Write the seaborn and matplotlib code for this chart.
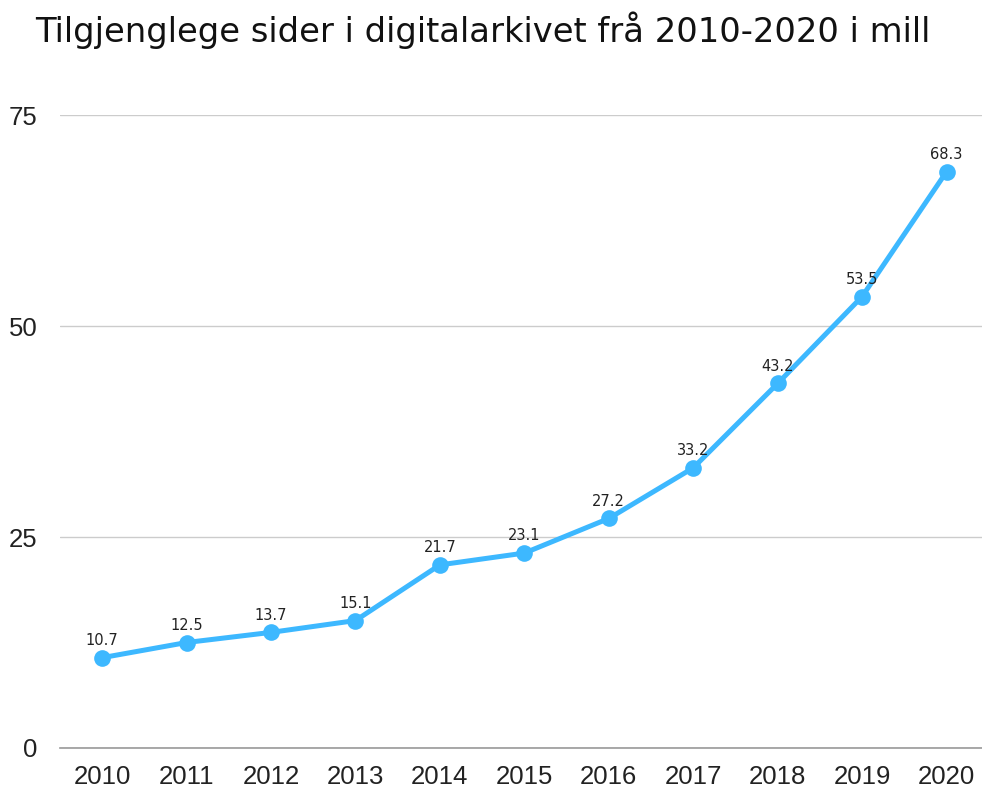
# %% Library imports

import pandas as pd
import seaborn as sns
import matplotlib.pyplot as plt

# %% Data

years = [2010, 2011, 2012, 2013, 2014, 2015, 2016, 2017, 2018, 2019, 2020]
pages_mill = [10.7, 12.5, 13.7, 15.1, 21.7, 23.1, 27.2, 33.2, 43.2, 53.5, 68.3]
y_ticks = [0, 25, 50, 75]

df = pd.DataFrame({"year": [str(y) for y in years], "pages": pages_mill})
df["pos"] = range(len(df))

# %% Plot

sns.set_style("white")
plt.rcParams["font.family"] = ["Liberation Sans", "DejaVu Sans"]

fig = plt.figure(figsize=(9.82, 7.89), dpi=100)
ax = fig.add_axes([0.061, 0.052, 0.939, 0.802])

line_color = "#3DB8FF"
sns.lineplot(data=df, x="pos", y="pages", ax=ax, color=line_color,
             linewidth=3.6, marker="o", markersize=12,
             markeredgewidth=0, clip_on=False)

for _, row in df.iterrows():
    ax.annotate(f"{row['pages']:.1f}", (row["pos"], row["pages"]),
                xytext=(0, 7), textcoords="offset points",
                ha="center", va="bottom", fontsize=10.5,
                family=["DejaVu Sans"], color="#222222")

ax.set_xlim(-0.5, 10.42)
ax.set_ylim(0, 75)
ax.set_xticks(df["pos"])
ax.set_xticklabels(df["year"], fontsize=18.5, color="#222222")
ax.set_yticks(y_ticks)
ax.set_yticklabels([str(t) for t in y_ticks], fontsize=18.5, color="#222222")
ax.tick_params(axis="both", length=0)
ax.tick_params(axis="y", pad=16)
ax.tick_params(axis="x", pad=12)
ax.set_xlabel("")
ax.set_ylabel("")

ax.yaxis.grid(True, color="#cccccc", linewidth=1)
ax.set_axisbelow(True)
for side in ["top", "right", "left"]:
    ax.spines[side].set_visible(False)
ax.spines["bottom"].set_color("#999999")
ax.spines["bottom"].set_linewidth(1.2)

fig.text(0.036, 0.962, "Tilgjenglege sider i digitalarkivet frå 2010-2020 i mill",
         fontsize=24.3, family=["DejaVu Sans"], color="#111111",
         ha="left", va="center")

plt.savefig("out.png", dpi=100)
